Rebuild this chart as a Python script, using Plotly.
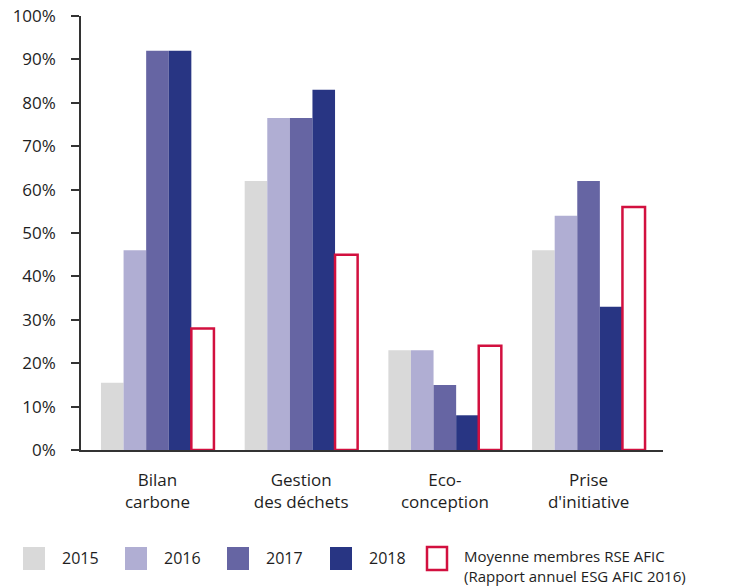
import plotly.graph_objects as go

# Categories and values (percent)
categories = ["Bilan<br>carbone", "Gestion<br>des déchets", "Eco-<br>conception", "Prise<br>d'initiative"]
v2015 = [15.5, 62, 23, 46]
v2016 = [46, 76.5, 23, 54]
v2017 = [92, 76.5, 15, 62]
v2018 = [92, 83, 8, 33]
moyenne = [28, 45, 24, 56]

series = [
    ("2015", v2015, "#d9d9d9"),
    ("2016", v2016, "#b0aed3"),
    ("2017", v2017, "#6665a3"),
    ("2018", v2018, "#283583"),
]
avg_name = "Moyenne membres RSE AFIC<br>(Rapport annuel ESG AFIC 2016)"
avg_col = "#d2103f"

W, H = 742, 586
FONT = "Open Sans"


def px(x):
    return x / W


def py(y):
    return 1 - y / H


fig = go.Figure()
for name, vals, col in series:
    fig.add_trace(go.Bar(x=categories, y=vals, name=name,
                         marker=dict(color=col, line=dict(width=0))))

# average bar: outline only
fig.add_trace(go.Bar(x=categories, y=moyenne, name=avg_name,
                     marker=dict(color="white", line=dict(color=avg_col, width=2.5))))

# hand-made legend below the chart
legend_items = [(name, col, col) for name, _, col in series] + [(avg_name, "white", avg_col)]
sq_x = [23, 125, 227, 330, 427]
for (name, fill, edge), x0 in zip(legend_items, sq_x):
    w = 22 if fill != "white" else 20
    fig.add_shape(type="rect", xref="paper", yref="paper",
                  x0=px(x0), x1=px(x0 + w),
                  y0=py(570), y1=py(547),
                  fillcolor=fill,
                  line=dict(color=edge, width=2.5 if fill == "white" else 0))
    fig.add_annotation(xref="paper", yref="paper",
                       x=px(x0 + w + 15), y=py(558 if fill != "white" else 566),
                       text=name, showarrow=False, xanchor="left", yanchor="middle",
                       align="left", font=dict(size=16 if fill != "white" else 15))

fig.update_layout(
    width=W, height=H,
    margin=dict(l=0, r=0, t=0, b=0),
    plot_bgcolor="white", paper_bgcolor="white",
    barmode="group", bargap=0.214, bargroupgap=0,
    font=dict(family=FONT, size=16, color="#1e1e1e"),
    showlegend=False,
)
fig.update_xaxes(domain=[px(81), px(663)], range=[-0.532, 3.518], automargin=False,
                 showline=True, linecolor="#333", linewidth=1.5, ticks="",
                 ticklabelstandoff=14, tickfont=dict(size=17))
fig.update_yaxes(domain=[py(450), py(16)], range=[0, 100], automargin=False,
                 dtick=10, ticksuffix="%", showgrid=False,
                 showline=True, linecolor="#333", linewidth=1.5,
                 ticks="outside", ticklen=8, tickcolor="#333", tickwidth=1.5,
                 ticklabelstandoff=12, ticklabeloverflow="allow",
                 tickfont=dict(size=17), zeroline=False)

# drop the default 8px page margin so the figure fills the window exactly
fig.write_html("out.html", config={"displayModeBar": False},
               post_script="document.body.style.margin = '0';")
